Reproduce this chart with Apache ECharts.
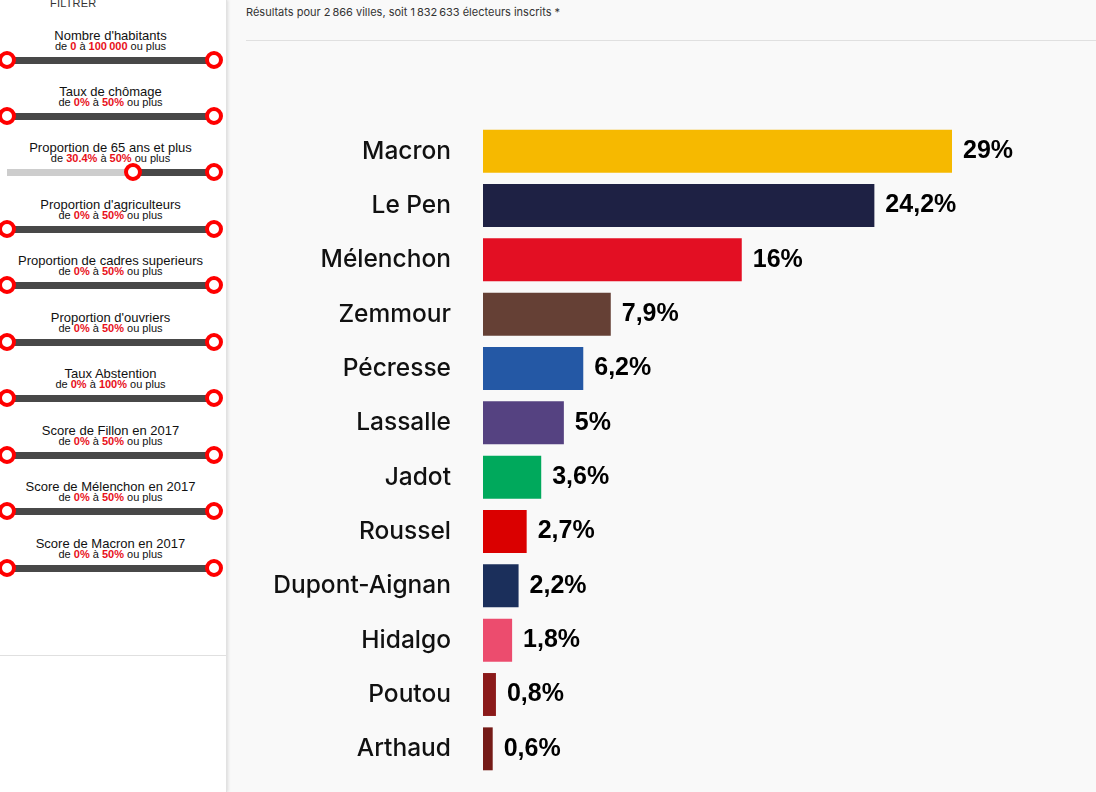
<!DOCTYPE html>
<html>
<head>
<meta charset="utf-8">
<script src="https://cdn.jsdelivr.net/npm/echarts@6/dist/echarts.min.js"></script>
<style>
  html,body{margin:0;padding:0;width:1096px;height:792px;overflow:hidden;background:#f9f9f9;font-family:"Liberation Sans",Arial,sans-serif;}
  #side{position:absolute;left:0;top:0;width:226px;height:792px;background:#fff;border-right:1px solid #e2e2e2;box-shadow:1px 0 3px rgba(0,0,0,0.12);}
  #side .filtrer{position:absolute;left:50px;top:-3px;font-size:11px;color:#333;letter-spacing:0.2px;}
  .flt{position:absolute;left:0;width:226px;}
  .flt .t{position:absolute;left:0;width:221px;text-align:center;font-size:13px;color:#111;line-height:13px;white-space:nowrap;}
  .flt .s{position:absolute;left:0;width:221px;text-align:center;font-size:11px;color:#111;line-height:11px;white-space:nowrap;}
  .flt .s b{color:#e8101a;}
  .trk{position:absolute;height:7px;background:#484848;}
  .trk.g{background:#cdcdcd;}
  .hd{position:absolute;width:10px;height:10px;border:4px solid #f00;border-radius:50%;background:#fff;}
  #sep{position:absolute;left:0;top:655px;width:226px;height:1px;background:#e0e0e0;}
  #head{position:absolute;left:246px;top:5px;font-size:11px;color:#333;font-family:"Inter","Liberation Sans",sans-serif;}
  #hline{position:absolute;left:246px;top:40px;width:850px;height:1px;background:#e0e0e0;}
  #chart{position:absolute;left:229px;top:0;width:867px;height:792px;}
</style>
</head>
<body>
<div id="side"><div class="filtrer">FILTRER</div><div id="sep"></div></div>
<div id="head">Résultats pour 2&#8239;866 villes, soit 1&#8239;832&#8239;633 électeurs inscrits *</div>
<div id="hline"></div>
<div id="chart"></div>
<script>
// ---- data ----
const candidates = ["Macron","Le Pen","Mélenchon","Zemmour","Pécresse","Lassalle","Jadot","Roussel","Dupont-Aignan","Hidalgo","Poutou","Arthaud"];
const scores = [29, 24.2, 16, 7.9, 6.2, 5, 3.6, 2.7, 2.2, 1.8, 0.8, 0.6];
const colors = ["#f6b900","#1e2144","#e30f23","#654035","#2458a5","#554281","#00a95c","#da0000","#1b2f5b","#ec4c6e","#8b1a1a","#751b17"];

const filterTitles = ["Nombre d'habitants","Taux de chômage","Proportion de 65 ans et plus","Proportion d'agriculteurs","Proportion de cadres superieurs","Proportion d'ouvriers","Taux Abstention","Score de Fillon en 2017","Score de Mélenchon en 2017","Score de Macron en 2017"];
const filterMin = ["0","0%","30.4%","0%","0%","0%","0%","0%","0%","0%"];
const filterMax = ["100\u202f000","50%","50%","50%","50%","50%","100%","50%","50%","50%"];
const filterMinPos = [0,0,0.61,0,0,0,0,0,0,0];

// ---- sidebar ----
const side = document.getElementById('side');
const trackTops = [60,116,172,229,285,342,398,455,511,568];
filterTitles.forEach((t,i)=>{
  const y = trackTops[i];
  const d = document.createElement('div');
  d.className='flt'; d.style.top='0px';
  const x0 = 7, x1 = 214;
  const hx = x0 + filterMinPos[i]*(x1-x0);
  let html = '<div class="t" style="top:'+(y-31)+'px">'+t+'</div>'+
    '<div class="s" style="top:'+(y-19)+'px">de <b>'+filterMin[i]+'</b> à <b>'+filterMax[i]+'</b> ou plus</div>';
  if (hx > x0) html += '<div class="trk g" style="left:'+x0+'px;top:'+(y-3)+'px;width:'+(hx-x0)+'px"></div>';
  html += '<div class="trk" style="left:'+hx+'px;top:'+(y-3)+'px;width:'+(x1-hx)+'px"></div>';
  html += '<div class="hd" style="left:'+(hx-9)+'px;top:'+(y-9)+'px"></div>';
  html += '<div class="hd" style="left:'+(x1-9)+'px;top:'+(y-9)+'px"></div>';
  d.innerHTML = html;
  side.appendChild(d);
});

// ---- chart ----
const chart = echarts.init(document.getElementById('chart'));
chart.setOption({
  backgroundColor:'transparent',
  animation:false,
  grid:{left:254, top:124, width:469, height:652, containLabel:false},
  xAxis:{type:'value', min:0, max:29, show:false},
  yAxis:{type:'category', data:candidates, inverse:true,
    axisLine:{show:false}, axisTick:{show:false},
    axisLabel:{margin:32, fontSize:24.5, color:'#111', fontFamily:'Inter, "Noto Sans", sans-serif', fontWeight:500}},
  series:[{
    type:'bar',
    data:scores.map((v,i)=>({value:v, itemStyle:{color:colors[i]}})),
    barCategoryGap:'21%',
    label:{show:true, position:'right', distance:11, color:'#000',
      fontFamily:'"Liberation Sans", Arial, sans-serif', fontWeight:'bold', fontSize:25,
      formatter:p=>String(p.value).replace('.',',')+'%'}
  }]
});
</script>
</body>
</html>
